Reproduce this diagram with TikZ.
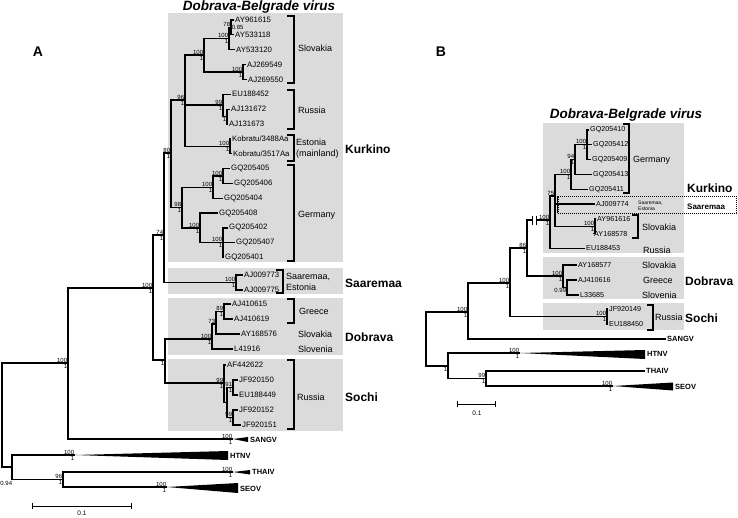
\documentclass[tikz,border=0pt]{standalone}
\usepackage{fontspec}
\setmainfont{Liberation Sans}
\usetikzlibrary{arrows.meta,positioning}
\definecolor{boxgray}{RGB}{219,219,219}
\tikzset{
  br/.style={line width=1.2pt},
  brk/.style={line width=1.5pt},
  tip/.style={anchor=west, inner sep=1pt, font=\fontsize{7.8}{8}\selectfont},
  tipb/.style={tip, font=\fontsize{7.2}{8}\selectfont},
  ctry/.style={anchor=west, inner sep=1pt, align=left, font=\fontsize{9}{11.5}\selectfont},
  note/.style={anchor=west, inner sep=1pt, align=left, font=\fontsize{5}{6}\selectfont},
  grp/.style={anchor=west, inner sep=1pt, font=\bfseries\fontsize{12}{12}\selectfont},
  grpsm/.style={grp, font=\bfseries\fontsize{8}{8}\selectfont},
  clade/.style={anchor=west, inner sep=1pt, font=\bfseries\fontsize{7.5}{8}\selectfont},
  bs/.style={inner sep=0.7pt, font=\fontsize{6}{6}\selectfont},
  bsup/.style={label={[bs]above left:#1}},
  bsdn/.style={label={[bs]below left:#1}},
  supp/.style 2 args={bsup=#1, bsdn=#2},
  ttl/.style={font=\bfseries\itshape\fontsize{13.5}{14}\selectfont},
  panel/.style={font=\bfseries\fontsize{14}{14}\selectfont},
  scl/.style={line width=1pt, {Bar[width=6pt]}-{Bar[width=6pt]}}
}

\begin{document}
\begin{tikzpicture}[x=1pt,y=-1pt]
\useasboundingbox (0,0) rectangle (738,517);

%%% tree A
\fill[boxgray] (168,13) rectangle (343,262);
\fill[boxgray] (168,268) rectangle (343,294);
\fill[boxgray] (168,298) rectangle (343,355);
\fill[boxgray] (168,359) rectangle (343,431);

\node[panel] (labA) at (38,52) {A};
\node[ttl] (titA) at (259,7) {Dobrava-Belgrade virus};

\node[tip] (A-AY961615) at (234,20) {AY961615};
\node[tip] (A-AY533118) at (234,34.85) {AY533118};
\node[tip] (A-AY533120) at (235,49.7) {AY533120};
\node[tip] (A-AJ269549) at (246,64.55) {AJ269549};
\node[tip] (A-AJ269550) at (247,79.4) {AJ269550};
\node[tip] (A-EU188452) at (231,94.25) {EU188452};
\node[tip] (A-AJ131672) at (230,109.1) {AJ131672};
\node[tip] (A-AJ131673) at (228,123.95) {AJ131673};
\node[tip] (A-kob3488) at (231,138.8) {Kobratu/3488Aa};
\node[tip] (A-kob3517) at (232,153.65) {Kobratu/3517Aa};
\node[tip] (A-GQ205405) at (230,168.5) {GQ205405};
\node[tip] (A-GQ205406) at (233,183.35) {GQ205406};
\node[tip] (A-GQ205404) at (223,198.2) {GQ205404};
\node[tip] (A-GQ205408) at (218,213.05) {GQ205408};
\node[tip] (A-GQ205402) at (228,227.9) {GQ205402};
\node[tip] (A-GQ205407) at (235,242.75) {GQ205407};
\node[tip] (A-GQ205401) at (224,257.6) {GQ205401};
\node[tip] (A-AJ009773) at (243,275) {AJ009773};
\node[tip] (A-AJ009775) at (243,290) {AJ009775};
\node[tip] (A-AJ410615) at (231,304) {AJ410615};
\node[tip] (A-AJ410619) at (233,319) {AJ410619};
\node[tip] (A-AY168576) at (240,334) {AY168576};
\node[tip] (A-L41916) at (233,349) {L41916};
\node[tip] (A-AF442622) at (226,365) {AF442622};
\node[tip] (A-JF920150) at (238,380) {JF920150};
\node[tip] (A-EU188449) at (238,395) {EU188449};
\node[tip] (A-JF920152) at (238,410) {JF920152};
\node[tip] (A-JF920151) at (241,425) {JF920151};

\coordinate[supp={78}{}, label={[bs]right:0.85}] (a78) at (231,27.4);
\coordinate[supp={100}{1}] (a100s) at (229,38.5);
\coordinate[supp={100}{1}] (a100aj) at (243,72);
\coordinate[supp={100}{1}] (aSlk) at (204,55);
\coordinate[bsdn={1}] (aRu2) at (227,116.5);
\coordinate[supp={99}{1}] (aRu) at (223,105);
\coordinate[supp={100}{1}] (aEe) at (230,146.2);
\coordinate[supp={96}{1}] (a96) at (185,100);
\coordinate[supp={100}{1}] (aG11) at (223,176);
\coordinate[supp={100}{1}] (aG1) at (213,187.3);
\coordinate[supp={100}{1}] (aG21) at (223,242.75);
\coordinate[supp={100}{1}] (aG2) at (200,228);
\coordinate[supp={98}{1}] (a98) at (182,207.5);
\coordinate[supp={80}{1}] (a80) at (171,153);
\coordinate[supp={100}{1}] (aSa) at (236,282.5);
\coordinate[supp={74}{1}] (a74) at (164,235);
\coordinate[supp={89}{1}] (a89) at (224,311.5);
\coordinate[bsup={73}] (a73) at (216,324);
\coordinate[supp={100}{1}] (aDo) at (212,339);
\coordinate[supp={91}{1}] (a91) at (233,387.5);
\coordinate[supp={99}{1}] (a99) at (233,417.5);
\coordinate (aSoX) at (227,402.5);
\coordinate[supp={99}{1}] (aSo) at (224,383);
\coordinate[bsdn={1}] (aDS) at (165,360);
\coordinate[supp={100}{1}] (aD) at (153,288);
\coordinate[supp={100}{1}] (a1) at (68,363);
\coordinate[supp={96}{1}] (a96o) at (63,479.5);
\coordinate (aO) at (12,467);
\coordinate (a0) at (2,415);
\node[bs, anchor=north east] (a094) at ([shift={(1,13)}]aO) {0.94};

\coordinate[supp={100}{1}] (aSANGVt) at (233,439);
\coordinate[supp={100}{1}] (aHTNVt) at (75,455);
\coordinate[supp={100}{1}] (aTHAIVt) at (233,472);
\coordinate[supp={100}{1}] (aSEOVt) at (167,487);
\node[clade] (A-SANGV) at (249,439.5) {SANGV};
\node[clade] (A-HTNV) at (229,455.5) {HTNV};
\node[clade] (A-THAIV) at (251,472) {THAIV};
\node[clade] (A-SEOV) at (239,488.5) {SEOV};

\foreach \p/\c in {a0/a1, a0/aO, a1/aD, aD/a74, aD/aDS, a74/a80, a74/aSa,
    a80/a96, a80/a98, a96/aSlk, a96/aRu, a96/aEe, aSlk/a100s, aSlk/a100aj,
    a100s/a78, aRu/aRu2, a98/aG1, a98/aG2, aG1/aG11, aG2/aG21, aDS/aDo,
    aDS/aSo, aDo/a73, a73/a89, aSo/aSoX, aSoX/a91, aSoX/a99, aO/a96o,
    a1/aSANGVt, aO/aHTNVt, a96o/aTHAIVt, a96o/aSEOVt}
  \draw[br] (\p) |- (\c);
\foreach \p/\c in {a78/AY961615, a78/AY533118, a100s/AY533120, a100aj/AJ269549,
    a100aj/AJ269550, aRu/EU188452, aRu2/AJ131672, aRu2/AJ131673, aEe/kob3488,
    aEe/kob3517, aG11/GQ205405, aG11/GQ205406, aG1/GQ205404, aG2/GQ205408,
    aG21/GQ205402, aG21/GQ205407, aG21/GQ205401, aSa/AJ009773, aSa/AJ009775,
    a89/AJ410615, a89/AJ410619, a73/AY168576, aDo/L41916, aSo/AF442622,
    a91/JF920150, a91/EU188449, a99/JF920152, a99/JF920151}
  \draw[br] (\p) |- (A-\c.west);

\fill (aSANGVt) -- ++(15,-2) -- ++(0,5) -- cycle;
\fill (aHTNVt) -- ++(153,-4) -- ++(0,9) -- cycle;
\fill (aTHAIVt) -- ++(17,-2) -- ++(0,4.5) -- cycle;
\fill (aSEOVt) -- ++(71,-4) -- ++(0,10) -- cycle;

\foreach \x/\ya/\yb in {294/16/83, 294/90/129, 294/135/161, 294/165/261,
    283/270/293, 294/299/323, 294/360/429}
  \draw[brk] (\x-7,\ya) -| (\x,\yb) -- (\x-7,\yb);

\node[ctry] (A-slov) at (297,48) {Slovakia};
\node[ctry] (A-russ1) at (297,110) {Russia};
\node[ctry] (A-eston) at (295,148.5) {Estonia\\(mainland)};
\node[ctry] (A-germ) at (297,215) {Germany};
\node[ctry] (A-saar2) at (285,282) {Saaremaa,\\Estonia};
\node[ctry] (A-grc) at (298,311.5) {Greece};
\node[ctry] (A-slov2) at (297,334) {Slovakia};
\node[ctry] (A-slvn) at (297,349) {Slovenia};
\node[ctry] (A-russ2) at (296,397) {Russia};

\node[grp] (A-kurk) at (344,149) {Kurkino};
\node[grp] (A-saar) at (344,283) {Saaremaa};
\node[grp] (A-dobr) at (344,337) {Dobrava};
\node[grp] (A-soch) at (344,397) {Sochi};

\coordinate (sclA1) at (32,506);
\coordinate (sclA2) at (132,506);
\draw[scl] (sclA1) -- (sclA2);
\node[bs, font=\fontsize{6.5}{7}\selectfont] (sclAt) at (82,513) {0.1};

%%% tree B
\fill[boxgray] (543,123) rectangle (684,253);
\fill[boxgray] (543,257) rectangle (684,299);
\fill[boxgray] (543,303) rectangle (684,330);

\node[panel] (labB) at (441,52) {B};
\node[ttl] (titB) at (626,115) {Dobrava-Belgrade virus};

\node[tipb] (B-GQ205410) at (589,130) {GQ205410};
\node[tipb] (B-GQ205412) at (592,144.8) {GQ205412};
\node[tipb] (B-GQ205409) at (591,159.6) {GQ205409};
\node[tipb] (B-GQ205413) at (592,174.4) {GQ205413};
\node[tipb] (B-GQ205411) at (588,189.2) {GQ205411};
\node[tipb] (B-AJ009774) at (595,204) {AJ009774};
\node[tipb] (B-AY961616) at (596,218.8) {AY961616};
\node[tipb] (B-AY168578) at (593,233.6) {AY168578};
\node[tipb] (B-EU188453) at (585,248.4) {EU188453};
\node[tipb] (B-AY168577) at (577,265) {AY168577};
\node[tipb] (B-AJ410616) at (577,280) {AJ410616};
\node[tipb] (B-L33685) at (579,295) {L33685};
\node[tipb] (B-JF920149) at (608,309) {JF920149};
\node[tipb] (B-EU188450) at (608,324) {EU188450};
\node[clade] (B-SANGV) at (666,339) {SANGV};
\node[clade] (B-THAIV) at (645,371) {THAIV};
\node[clade] (B-HTNV) at (646,354) {HTNV};
\node[clade] (B-SEOV) at (674,387) {SEOV};

\coordinate (b0) at (426,339);
\coordinate[supp={100}{1}] (b1) at (468,312);
\coordinate[supp={100}{1}] (b2) at (510,283);
\coordinate[supp={86}{1}] (b86) at (527,248);
\coordinate[supp={100}{1}] (bK) at (550,220);
\coordinate[bsup={75}] (b75) at (555,196);
\coordinate[supp={100}{1}] (bG) at (571,174.4);
\coordinate[supp={94}{1}] (b94) at (575,159.6);
\coordinate[supp={100}{1}] (b100G) at (587,144.8);
\coordinate[supp={100}{1}] (bSl) at (595,226.2);
\coordinate[supp={100}{1}] (bDo) at (563,276);
\coordinate[bsdn={0.99}] (bDo2) at (567,287.5);
\coordinate[supp={100}{1}] (bSo) at (607,316.5);
\coordinate[bsdn={1}] (bO) at (448,366);
\coordinate[supp={99}{1}] (b99) at (486,378.5);
\coordinate[supp={100}{1}] (bHTNVt) at (520,353);
\coordinate[supp={100}{1}] (bSEOVt) at (613,386);

\foreach \p/\c in {b0/b1, b0/bO, b1/b2, b2/b86, b2/bSo, b86/bK, b86/bDo,
    bK/b75, b75/bG, b75/bSl, bG/b94, b94/b100G, bDo/bDo2, bO/b99,
    bO/bHTNVt, b99/bSEOVt}
  \draw[br] (\p) |- (\c);
\foreach \p/\c in {b1/SANGV, bK/EU188453, b75/AJ009774, bG/GQ205411,
    b94/GQ205413, b100G/GQ205410, b100G/GQ205412, b100G/GQ205409,
    bSl/AY961616, bSl/AY168578, bDo/AY168577, bDo2/AJ410616, bDo2/L33685,
    bSo/JF920149, bSo/EU188450, b99/THAIV}
  \draw[br] (\p) |- (B-\c.west);

\fill (bHTNVt) -- ++(125,-3) -- ++(0,9) -- cycle;
\fill (bSEOVt) -- ++(60,-3.5) -- ++(0,8) -- cycle;

% break on the branch to bK
\fill[white] (533.3,215) rectangle (535.7,225);
\draw[line width=0.9pt] (532.6,215.5) -- (532.6,224.5) (536.4,215.5) -- (536.4,224.5);

% collapsed comb and Saaremaa box
\draw[line width=2.6pt, dash pattern=on 1.2pt off 0.8pt] (558,196.5) -- (558,212.5);
\draw[densely dotted, line width=1pt] (557,196) rectangle (736.5,213.5);

\foreach \x/\ya/\yb in {629/124/193, 638/215/238, 653/305/330}
  \draw[brk] (\x-6,\ya) -| (\x,\yb) -- (\x-6,\yb);

\node[ctry] (B-germ) at (632,160) {Germany};
\node[note] (B-saartxt) at (637,206) {Saaremaa,\\Estonia};
\node[ctry] (B-slov) at (641,227) {Slovakia};
\node[ctry] (B-russ1) at (642,250) {Russia};
\node[ctry] (B-slov2) at (641,265) {Slovakia};
\node[ctry] (B-grc) at (642,280) {Greece};
\node[ctry] (B-slvn) at (641,295) {Slovenia};
\node[ctry] (B-russ2) at (654,317) {Russia};

\node[grp] (B-kurk) at (686,188) {Kurkino};
\node[grpsm] (B-saar) at (686,207) {Saaremaa};
\node[grp] (B-dobr) at (684,281) {Dobrava};
\node[grp] (B-soch) at (684,318) {Sochi};

\coordinate (sclB1) at (457,404);
\coordinate (sclB2) at (496,404);
\draw[scl] (sclB1) -- (sclB2);
\node[bs, font=\fontsize{6.5}{7}\selectfont] (sclBt) at (477,413) {0.1};

\end{tikzpicture}
\end{document}
